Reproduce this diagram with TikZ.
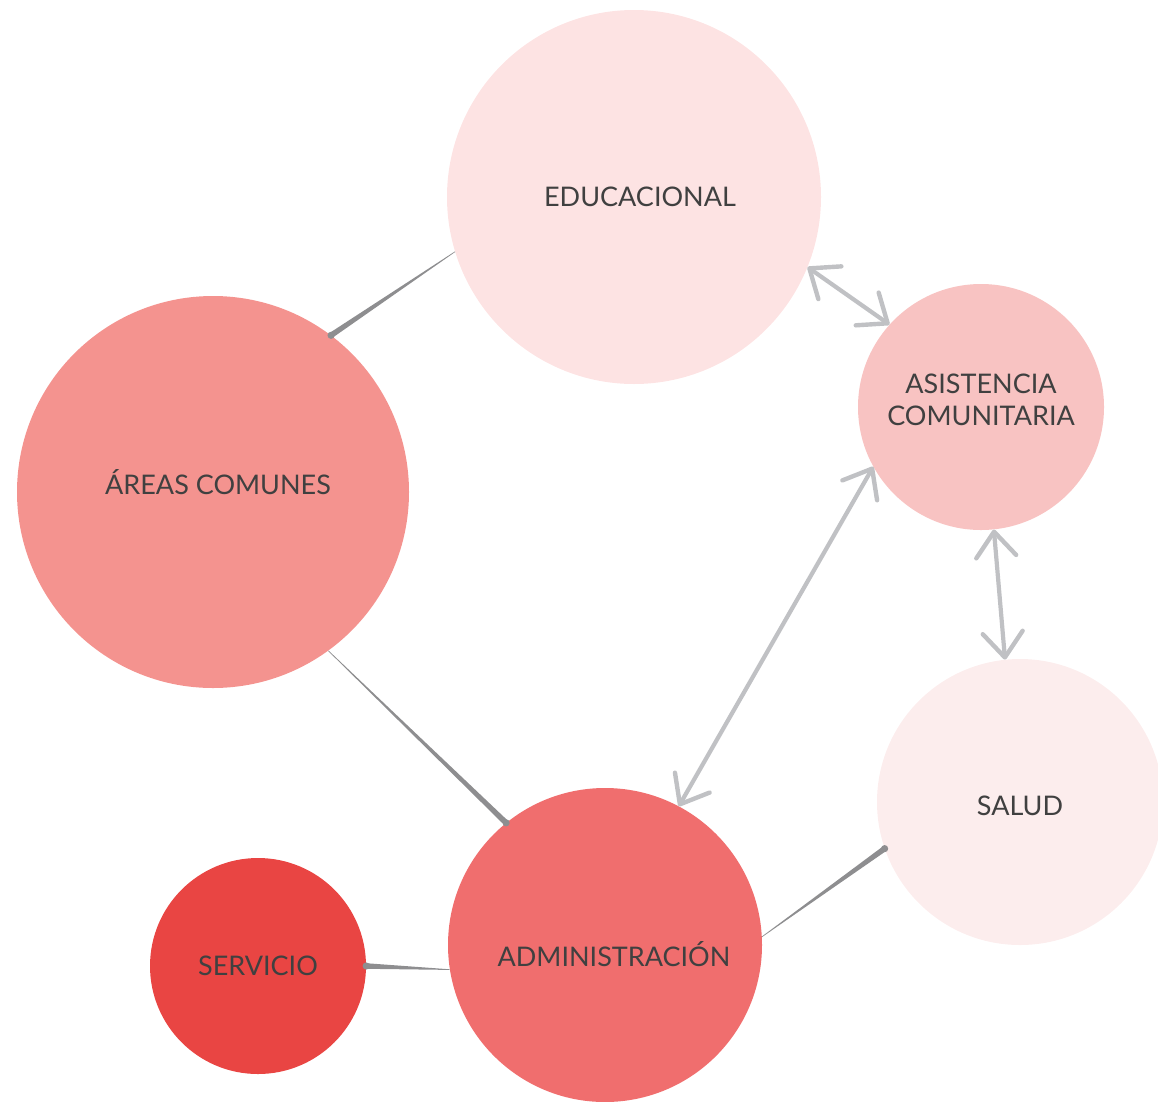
\documentclass[tikz,border=0pt]{standalone}
\usepackage{fontspec}
\setsansfont{Lato}
\usetikzlibrary{arrows.meta,calc}
\definecolor{educ}{HTML}{FDE3E3}
\definecolor{comun}{HTML}{F4938F}
\definecolor{asist}{HTML}{F8C3C2}
\definecolor{salud}{HTML}{FCEDED}
\definecolor{admin}{HTML}{F06E6E}
\definecolor{serv}{HTML}{E94543}
\definecolor{linkgray}{HTML}{8E8E90}
\definecolor{arrgray}{HTML}{C0C1C4}

% tapered brush stroke, thin at #1, thick at #2
\newcommand{\brush}[2]{%
  \fill[linkgray] ($(#1)!0.3pt!90:(#2)$) -- ($(#2)!2.8pt!-90:(#1)$)
    -- ($(#2)!2.8pt!90:(#1)$) -- ($(#1)!0.3pt!-90:(#2)$) -- cycle;
  \fill[linkgray] (#2) circle[radius=3.6pt];
}

\begin{document}
\begin{tikzpicture}[x=1pt, y=-1pt,
  area/.style={circle, inner sep=0pt},
  tag/.style={align=center, text=black!75, font=\sffamily\fontsize{27}{32}\selectfont},
  barb/.tip={Straight Barb[length=25pt,width=40pt,line width=4.4pt,round]},
  twoway/.style={barb-barb, line width=4.2pt, draw=arrgray, line cap=round},
]
\useasboundingbox (0,0) rectangle (1158,1101);

% Circles
\node[area, fill=educ, minimum size=374pt,
  label={[tag, xshift=6pt]center:EDUCACIONAL}] (edu) at (634,197) {};
\node[area, fill=comun, minimum size=392pt,
  label={[tag, xshift=5pt, yshift=10pt]center:ÁREAS COMUNES}] (areas) at (213,492) {};
\node[area, fill=asist, minimum size=246pt,
  label={[tag, yshift=7pt]center:ASISTENCIA\\COMUNITARIA}] (asis) at (981,407) {};
\node[area, fill=salud, minimum size=286pt,
  label={[tag, yshift=-4pt]center:SALUD}] (salud) at (1020,802) {};
\node[area, fill=admin, minimum size=314pt,
  label={[tag, xshift=9pt, yshift=-9pt]center:ADMINISTRACIÓN}] (admin) at (605,945) {};
\node[area, fill=serv, minimum size=216pt,
  label={[tag]center:SERVICIO}] (serv) at (258,966) {};

% Links
\brush{edu.197}{areas.53}
\brush{areas.-54}{admin.129}
\brush{admin.3}{salud.199}
\brush{admin.189}{serv.0}

% Two-way arrows
\draw[twoway] (edu.-22) -- (asis.138);
\draw[twoway] (asis.-84) -- (salud.96);
\draw[twoway] (asis.209) -- (admin.62);
\end{tikzpicture}
\end{document}
